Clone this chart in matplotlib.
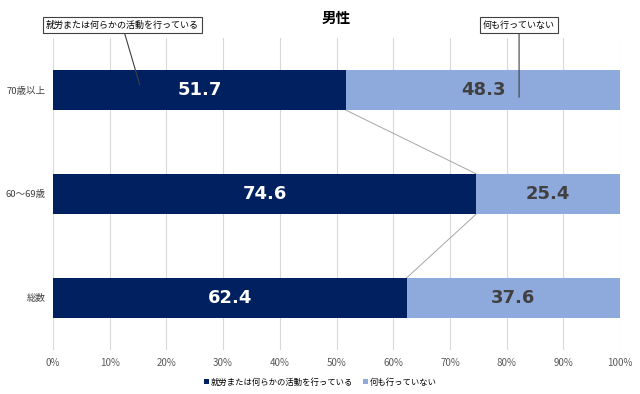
import matplotlib.pyplot as plt
import matplotlib.ticker as plticker

plt.rcParams['font.family'] = ['Noto Sans CJK JP', 'DejaVu Sans']

categories = ['70歳以上', '60～69歳', '総数']
active = [51.7, 74.6, 62.4]
inactive = [48.3, 25.4, 37.6]
series_names = ['就労または何らかの活動を行っている', '何も行っていない']
ticks = [0, 10, 20, 30, 40, 50, 60, 70, 80, 90, 100]

dark = '#002060'
light = '#8EA9DB'

fig = plt.figure(figsize=(6.4, 3.94), dpi=100)
ax = fig.add_axes([53 / 640, 1 - 350 / 394, 567 / 640, 312 / 394])

ypos = list(range(len(categories)))
h = 0.39
ax.barh(ypos, active, height=h, color=dark, label=series_names[0], zorder=3)
ax.barh(ypos, inactive, left=active, height=h, color=light, label=series_names[1], zorder=3)

for y, a, b in zip(ypos, active, inactive):
    ax.text(a / 2, y, f'{a:.1f}', ha='center', va='center', color='white',
            fontsize=13, fontweight='bold', family='DejaVu Sans', zorder=4)
    ax.text(a + b / 2, y, f'{b:.1f}', ha='center', va='center', color='#404040',
            fontsize=13, fontweight='bold', family='DejaVu Sans', zorder=4)

# series connecting lines
for i in range(len(categories) - 1):
    ax.plot([active[i], active[i + 1]], [ypos[i] + h / 2, ypos[i + 1] - h / 2],
            color='#A6A6A6', lw=0.7, zorder=2)

ax.set_xlim(0, 100)
ax.set_ylim(2.5, -0.5)
ax.set_yticks(ypos)
ax.set_yticklabels(categories)
ax.set_xticks(ticks)
ax.xaxis.set_major_formatter(plticker.FuncFormatter(lambda v, p: f'{v:.0f}%'))
ax.tick_params(axis='both', length=0, labelsize=7, labelcolor='#595959')
ax.tick_params(axis='x', pad=6)
ax.tick_params(axis='y', pad=5, labelsize=6.8, labelcolor='#404040')
ax.grid(axis='x', color='#D9D9D9', lw=0.8, zorder=0)
for s in ax.spines.values():
    s.set_visible(False)

ax.set_title('男性', fontsize=10.5, fontweight='bold', pad=11)

# callouts
ax.annotate(series_names[0], xy=(15.3, -0.05), xytext=(12.2, -0.625),
            fontsize=6.5, ha='center', va='center',
            bbox=dict(boxstyle='square,pad=0.35', fc='white', ec='#404040', lw=0.8),
            arrowprops=dict(arrowstyle='-', color='#404040', lw=0.8,
                            shrinkA=0, shrinkB=0))
ax.annotate(series_names[1], xy=(82.2, 0.07), xytext=(82.2, -0.625),
            fontsize=6.5, ha='center', va='center',
            bbox=dict(boxstyle='square,pad=0.35', fc='white', ec='#404040', lw=0.8),
            arrowprops=dict(arrowstyle='-', color='#404040', lw=0.8,
                            shrinkA=0, shrinkB=0))

fig.legend(loc='center', bbox_to_anchor=(0.5, 1 - 382 / 394), ncol=2, frameon=False,
           fontsize=6, handlelength=0.6, handleheight=0.6, handletextpad=0.2,
           columnspacing=1.2)

fig.savefig('out.png', dpi=100)
